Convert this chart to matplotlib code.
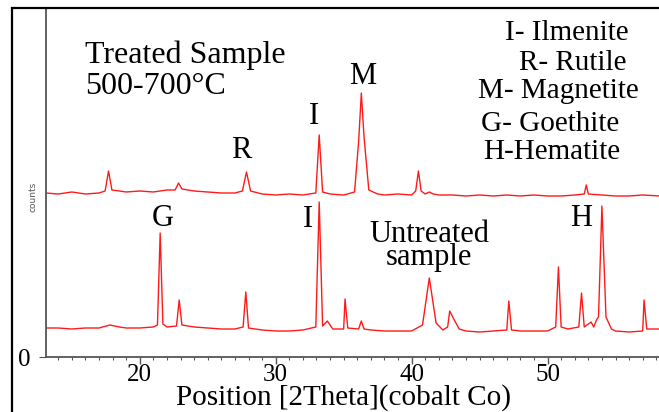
import matplotlib
matplotlib.use("Agg")
import matplotlib.pyplot as plt
from matplotlib.patches import Rectangle
from matplotlib.ticker import MultipleLocator

# XRD traces (2theta, counts)
treated_x = [13.1, 14, 15, 16, 17, 17.45, 17.7, 17.95, 18.5, 19, 20, 21, 22, 22.6, 22.85,
             23.1, 24, 25, 26, 27, 27.55, 27.85, 28.15, 29, 30, 31, 32, 32.95, 33.2, 33.45,
             34, 35, 35.8, 36.1, 36.3, 36.5, 36.85, 37.5, 38, 39, 40, 40.3, 40.5, 40.7, 41,
             41.3, 41.6, 42, 43, 44, 45, 46, 47, 48, 49, 50, 51, 52, 52.7, 52.85, 53.0, 54,
             55, 56, 57, 58.3]
treated_y = [164, 163, 165, 163, 164, 166, 186, 167, 166, 165, 166, 165, 167, 167, 174,
             168, 166, 165, 164, 164, 166, 185, 166, 163, 162, 163, 162, 164, 222, 165,
             163, 162, 165, 215, 264, 220, 167, 163, 162, 163, 162, 166, 186, 166, 163,
             165, 163, 162, 162, 161, 162, 161, 162, 161, 162, 161, 161, 162, 163, 172, 163, 162,
             161, 161, 162, 161]

untreated_x = [13.1, 14, 15, 16, 17, 17.8, 18.5, 19, 20, 21, 21.3, 21.5, 21.7, 22, 22.7,
               22.9, 23.1, 24, 25, 26, 27, 27.6, 27.8, 28.0, 29, 30, 31, 32, 32.95, 33.2,
               33.45, 33.8, 34.2, 35, 35.1, 35.3, 36.1, 36.3, 36.5, 37, 38, 39, 40, 40.8,
               41.3, 41.8, 42.3, 42.65, 42.8, 43.1, 43.5, 44, 45, 46, 47, 47.15, 47.35,
               48, 49, 50, 50.6, 50.8, 51.0, 51.5, 52.3, 52.5, 52.7, 53.2, 53.4, 53.6,
               53.75, 54.0, 54.3, 54.7, 55, 56, 57, 57.1, 57.3, 58.3]
untreated_y = [29, 29, 28, 29, 29, 32, 30, 29, 29, 30, 32, 124, 33, 30, 31,
               57, 32, 30, 29, 28, 28, 30, 65, 29, 27, 26, 26, 27, 30, 155,
               31, 36, 28, 28, 58, 29, 28, 36, 28, 27, 26, 26, 26, 32,
               79, 34, 27, 30, 46, 38, 28, 26, 25, 26, 27, 56, 27,
               26, 26, 26, 30, 90, 30, 28, 30, 64, 30, 35, 30, 37,
               40, 151, 40, 28, 26, 25, 26, 57, 28, 28]

major_ticks = [20, 30, 40, 50]

legend_lines = ["I- Ilmenite", "R- Rutile", "M- Magnetite", "G- Goethite", "H-Hematite"]
legend_pos = [(567, 33), (573, 63), (558, 91), (550, 124), (552, 152)]

peak_labels = ["R", "I", "M", "G", "I", "H"]
peak_label_x = [27.5, 32.8, 36.4, 21.7, 32.35, 52.5]
peak_label_y = [207, 240, 280, 138, 137, 138]

W, H = 659, 412
serif = "Liberation Serif"

fig = plt.figure(figsize=(W / 100, H / 100), dpi=100)
ax = fig.add_axes([46 / W, 1 - 357 / H, 1 - 46 / W, (357 - 9) / H])

ax.plot(treated_x, treated_y, color="#ff1a1a", lw=1.0)
ax.plot(untreated_x, untreated_y, color="#ff1a1a", lw=1.0)

ax.set_xlim(13.1, 58.2)
ax.set_ylim(0, 348)
ax.set_xticks(major_ticks)
ax.xaxis.set_minor_locator(MultipleLocator(1))
ax.set_yticks([0])
for s in ["top", "right"]:
    ax.spines[s].set_visible(False)
for s in ["left", "bottom"]:
    ax.spines[s].set_color("#555555")
    ax.spines[s].set_linewidth(1.3)
ax.tick_params(axis="x", which="major", length=5, width=1, color="#555555", pad=0)
ax.tick_params(axis="x", which="minor", length=2.5, width=0.8, color="#555555")
ax.tick_params(axis="y", length=5, color="#555555", pad=6)
for lab in ax.get_xticklabels() + ax.get_yticklabels():
    lab.set_fontfamily(serif)
    lab.set_fontsize(18)

# x axis title sits low, right at the bottom edge
fig.text(344 / W, 1 - 405 / H, "Position [2Theta](cobalt Co)", ha="center", va="baseline",
         fontfamily=serif, fontsize=21)

# outer frame
fig.add_artist(Rectangle((12 / W, -0.2), 1.2, 0.2 + (H - 8) / H,
                         transform=fig.transFigure, fill=False, lw=1.6, color="black"))

fig.text(33 / W, 1 - 197 / H, "counts", rotation=90, ha="center", va="center",
         fontsize=6.5, color="#555555")

fig.text(85 / W, 1 - 55 / H, "Treated Sample", ha="left", va="center",
         fontfamily=serif, fontsize=23)
fig.text(85 / W, 1 - 87 / H, "500-700\u00b0C", ha="left", va="center",
         fontfamily=serif, fontsize=23)

for txt, (px, py) in zip(legend_lines, legend_pos):
    fig.text(px / W, 1 - py / H, txt, ha="center", va="center",
             fontfamily=serif, fontsize=21)

for txt, x, y in zip(peak_labels, peak_label_x, peak_label_y):
    ax.text(x, y, txt, ha="center", va="center", fontfamily=serif, fontsize=22)

ax.text(41.3, 111, "Untreated\nsample", ha="center", va="center", fontfamily=serif,
        fontsize=22, linespacing=0.75)

fig.savefig("out.png", dpi=100)
